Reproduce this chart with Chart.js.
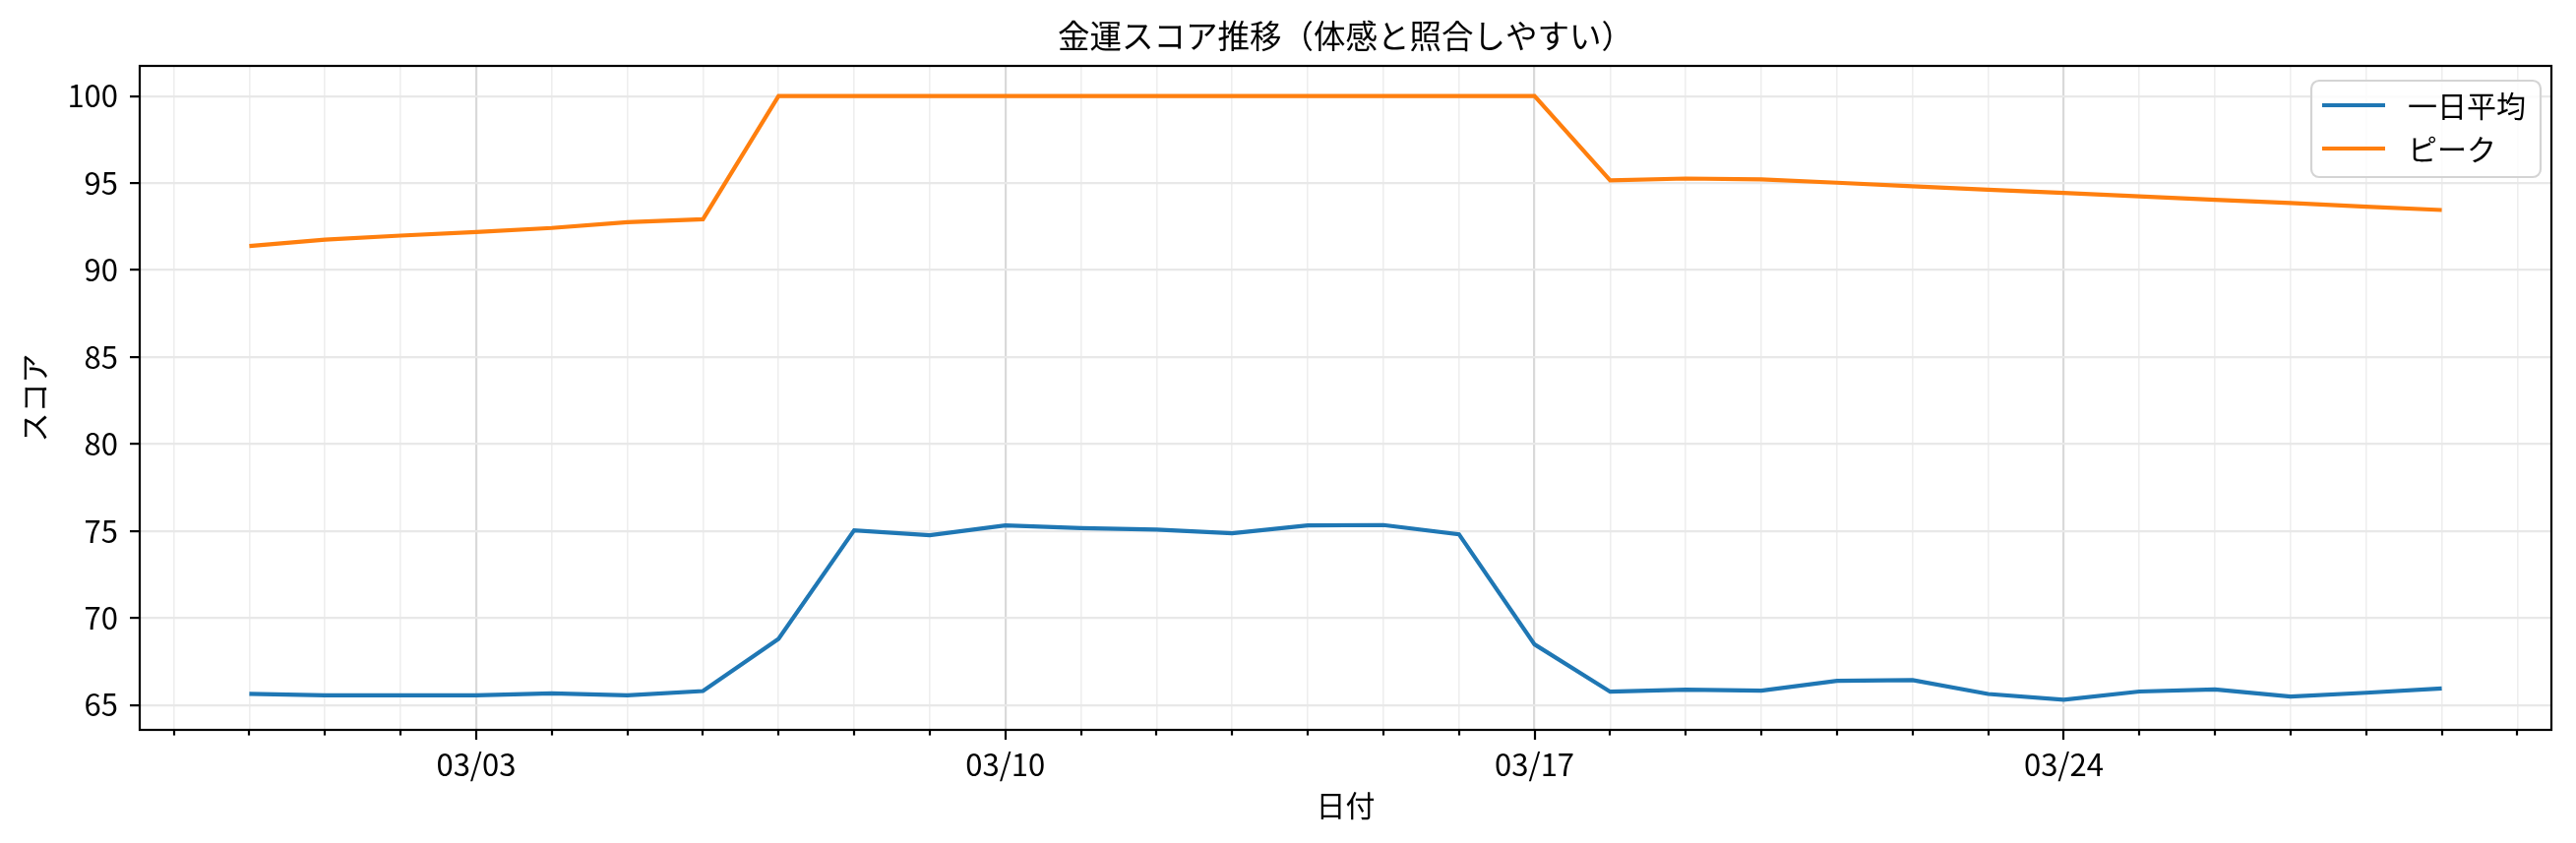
<!DOCTYPE html>
<html lang="ja">
<head>
<meta charset="utf-8">
<title>金運スコア推移</title>
<script src="https://cdn.jsdelivr.net/npm/chart.js@4.4.1/dist/chart.umd.min.js"></script>
<style>
  html, body { margin: 0; padding: 0; background: #fff; }
  #wrap { width: 2618px; height: 857px; position: relative; }
</style>
</head>
<body>
<div id="wrap"><canvas id="scoreChart"></canvas></div>
<script>
// データ（日付ごと）
const dates = ['02/29', '03/01', '03/02', '03/03', '03/04', '03/05', '03/06', '03/07', '03/08', '03/09',
               '03/10', '03/11', '03/12', '03/13', '03/14', '03/15', '03/16', '03/17', '03/18', '03/19',
               '03/20', '03/21', '03/22', '03/23', '03/24', '03/25', '03/26', '03/27', '03/28', '03/29'];
const dailyAvg = [65.64, 65.55, 65.55, 65.55, 65.66, 65.55, 65.80, 68.80, 75.04, 74.75,
                  75.32, 75.17, 75.08, 74.87, 75.32, 75.34, 74.81, 68.48, 65.76, 65.88,
                  65.82, 66.38, 66.43, 65.63, 65.30, 65.77, 65.89, 65.48, 65.70, 65.95];
const peak = [91.38, 91.75, 91.98, 92.19, 92.42, 92.75, 92.92, 100, 100, 100,
              100, 100, 100, 100, 100, 100, 100, 100, 95.15, 95.26,
              95.21, 95.02, 94.81, 94.62, 94.43, 94.23, 94.04, 93.85, 93.64, 93.45];
const majorLabels = ['03/03', '03/10', '03/17', '03/24'];
const yTicks = [65, 70, 75, 80, 85, 90, 95, 100];

const FONT = '"Noto Sans CJK JP", "Noto Sans", sans-serif';
const majorIdx = majorLabels.map(l => dates.indexOf(l));
const isMajor = v => majorIdx.includes(v);

// 軸範囲（matplotlib 風に 5% の余白）
const allVals = dailyAvg.concat(peak);
const yLo = Math.min(...allVals), yHi = Math.max(...allVals);
const yPad = (yHi - yLo) * 0.05;
const xPad = (dates.length - 1) * 0.05;

// 枠線・小目盛・凡例
const framePlugin = {
    id: 'frame',
    afterDraw(chart) {
        const { ctx, chartArea: a } = chart;
        const xs = chart.scales.x;
        ctx.save();
        // 目盛線（x）
        ctx.strokeStyle = '#000';
        ctx.lineWidth = 2.2;
        xs.ticks.forEach(t => {
            const px = Math.round(xs.getPixelForValue(t.value));
            const len = isMajor(t.value) ? 10 : 5.6;
            ctx.beginPath();
            ctx.moveTo(px, a.bottom);
            ctx.lineTo(px, a.bottom + len);
            ctx.stroke();
        });
        ctx.strokeRect(a.left, a.top, a.right - a.left, a.bottom - a.top);

        // 凡例
        const bx = 2349, by = 82, bw = 233, bh = 98, r = 8;
        ctx.beginPath();
        ctx.roundRect(bx, by, bw, bh, r);
        ctx.fillStyle = 'rgba(255,255,255,0.8)';
        ctx.fill();
        ctx.strokeStyle = '#d4d4d4';
        ctx.lineWidth = 2.2;
        ctx.stroke();
        ctx.font = '30px ' + FONT;
        ctx.textBaseline = 'middle';
        ctx.textAlign = 'left';
        chart.data.datasets.forEach((ds, i) => {
            const y = 107 + i * 44;
            ctx.strokeStyle = ds.borderColor;
            ctx.lineWidth = 4.2;
            ctx.beginPath();
            ctx.moveTo(2360, y);
            ctx.lineTo(2424, y);
            ctx.stroke();
            ctx.fillStyle = '#000';
            ctx.fillText(ds.label, 2447, y + 1);
        });
        ctx.restore();
    }
};

new Chart(document.getElementById('scoreChart'), {
    type: 'line',
    data: {
        datasets: [
            {
                label: '一日平均',
                data: dailyAvg.map((v, i) => ({ x: i, y: v })),
                borderColor: '#1f77b4',
                borderWidth: 4.2,
                pointRadius: 0,
                tension: 0
            },
            {
                label: 'ピーク',
                data: peak.map((v, i) => ({ x: i, y: v })),
                borderColor: '#ff7f0e',
                borderWidth: 4.2,
                pointRadius: 0,
                tension: 0
            }
        ]
    },
    options: {
        responsive: true,
        maintainAspectRatio: false,
        animation: false,
        layout: { padding: { left: 0, right: 25, top: 0, bottom: 0 } },
        plugins: {
            legend: { display: false },
            tooltip: { enabled: false },
            title: {
                display: true,
                fullSize: false,
                text: '金運スコア推移（体感と照合しやすい）',
                color: '#000',
                font: { family: FONT, size: 32.5, weight: 'normal' },
                padding: { top: 17, bottom: 11 }
            }
        },
        scales: {
            x: {
                type: 'linear',
                min: -xPad,
                max: dates.length - 1 + xPad,
                afterBuildTicks(scale) {
                    const t = [];
                    for (let v = Math.ceil(scale.min); v <= Math.floor(scale.max); v++) t.push({ value: v });
                    scale.ticks = t;
                },
                afterFit(scale) { scale.height = 115; },
                border: { display: false },
                grid: {
                    color: c => (c.tick && isMajor(c.tick.value)) ? '#d9d9d9' : '#eeeeee',
                    lineWidth: c => (c.tick && isMajor(c.tick.value)) ? 2.2 : 1.6,
                    tickLength: 10,
                    tickColor: 'rgba(0,0,0,0)'
                },
                ticks: {
                    autoSkip: false,
                    maxRotation: 0,
                    padding: 7,
                    color: '#000',
                    font: { family: FONT, size: 31 },
                    callback: v => isMajor(v) ? dates[v] : ''
                },
                title: {
                    display: true,
                    text: '日付',
                    color: '#000',
                    font: { family: FONT, size: 30 },
                    padding: { top: 0, bottom: 20 }
                }
            },
            y: {
                min: yLo - yPad,
                max: yHi + yPad,
                afterBuildTicks(scale) { scale.ticks = yTicks.map(v => ({ value: v })); },
                afterFit(scale) { scale.width = 142; },
                border: { display: false },
                grid: {
                    color: '#e8e8e8',
                    lineWidth: 2.2,
                    tickLength: 10,
                    tickColor: '#000',
                    tickWidth: 2.2
                },
                ticks: {
                    padding: 12,
                    color: '#000',
                    font: { family: FONT, size: 31 }
                },
                title: {
                    display: true,
                    text: 'スコア',
                    color: '#000',
                    font: { family: FONT, size: 30 },
                    padding: { top: 17, bottom: 0 }
                }
            }
        }
    },
    plugins: [framePlugin]
});
</script>
</body>
</html>
